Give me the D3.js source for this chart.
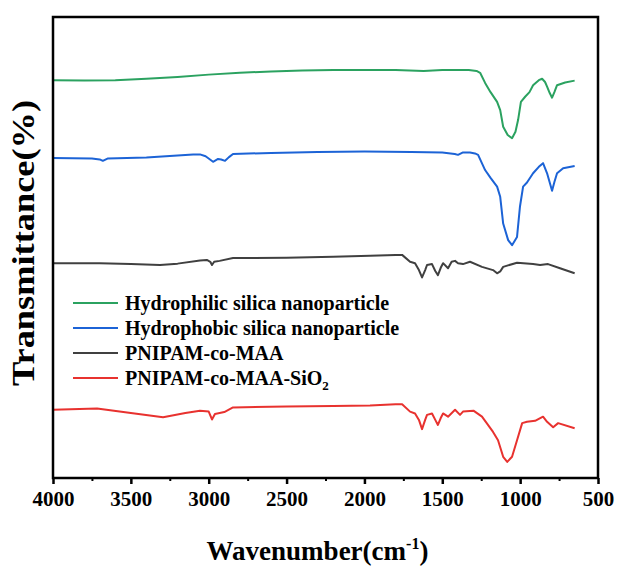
<!DOCTYPE html>
<html>
<head>
<meta charset="utf-8">
<script src="https://cdn.jsdelivr.net/npm/d3@7"></script>
<style>
  body { margin: 0; background: #fff; }
  text { font-family: "Liberation Serif", "Times New Roman", serif; font-weight: bold; }
</style>
</head>
<body>
<svg width="622" height="566"></svg>
<script>
const width = 622
const height = 566
const margin = {top: 17, right: 24, bottom: 88, left: 53}

// FTIR spectra, wavenumber (cm-1) and offset transmittance (a.u.)
const greenWn = [4000,3800,3600,3400,3200,3000,2800,2600,2400,2200,2000,1800,1620,1500,1330,1280,1257,1225,1190,1148,1128,1109,1080,1052,1030,1013,995,968,940,917,880,859,840,827,810,795,780,763,711,650]
const greenT  = [86.3,86.2,86.3,86.6,87.0,87.5,87.9,88.2,88.4,88.5,88.5,88.5,88.3,88.5,88.5,88.3,87.9,85.7,83.7,81.6,79.8,76.2,74.4,73.7,75.1,77.7,81.6,82.7,83.7,85.2,86.3,86.6,85.9,84.9,83.5,82.5,83.7,85.2,85.8,86.2]

const blueWn = [4000,3750,3700,3680,3650,3400,3100,3056,3020,2972,2940,2920,2895,2870,2844,2600,2300,2000,1700,1500,1420,1399,1370,1322,1290,1270,1225,1190,1148,1128,1109,1077,1052,1020,1001,981,956,917,880,853,827,795,780,763,724,650]
const blueT  = [69.4,69.3,69.1,68.8,69.3,69.5,70.2,70.2,69.8,68.6,69.2,69.1,68.8,69.6,70.3,70.5,70.7,70.8,70.7,70.6,70.3,70.1,70.6,70.6,70.4,70.1,66.8,65.1,63.2,61.0,55.2,51.6,50.5,52.3,58.9,63.2,64.1,66.1,67.5,68.3,66.1,62.3,64.2,66.1,67.2,67.7]

const blackWn = [4000,3700,3500,3313,3200,3056,3012,2990,2979,2965,2930,2844,2500,2200,1964,1800,1758,1707,1675,1650,1630,1610,1598,1566,1545,1528,1510,1495,1463,1440,1418,1399,1367,1322,1245,1174,1148,1128,1109,1020,917,872,821,744,650]
const blackT  = [46.6,46.6,46.4,46.2,46.5,47.2,47.3,46.9,46.2,46.9,47.1,47.7,47.8,48.0,48.2,48.4,48.4,46.9,46.6,45.1,43.5,45.1,46.2,46.4,44.9,44.0,45.6,46.6,45.5,46.9,47.1,46.6,46.4,46.9,45.8,45.1,44.4,44.8,45.8,46.7,46.4,46.2,46.4,45.5,44.4]

const redWn = [4000,3717,3500,3293,3150,3056,3000,2979,2960,2900,2844,2500,2200,1964,1800,1758,1707,1675,1650,1630,1610,1598,1566,1545,1528,1510,1495,1463,1418,1386,1367,1300,1245,1174,1142,1109,1083,1052,1020,987,956,904,853,827,788,756,650]
const redT  = [14.8,15.1,14.1,13.2,14.1,14.6,14.4,12.7,13.9,14.3,15.3,15.5,15.6,15.7,16.0,16.0,14.4,14.0,12.6,10.6,12.6,13.7,14.0,12.6,11.5,13.0,14.0,13.3,14.8,13.7,14.4,14.6,13.3,10.0,8.2,4.6,3.5,4.6,8.2,11.9,12.2,12.4,13.3,12.2,11.0,11.9,10.8]

const seriesNames  = ["Hydrophilic silica nanoparticle", "Hydrophobic silica nanoparticle", "PNIPAM-co-MAA", "PNIPAM-co-MAA-SiO2"]
const seriesColors = ["#2ba260", "#1c63d6", "#404040", "#e8322f"]
const majorTicks = [4000,3500,3000,2500,2000,1500,1000,500]
const minorTicks = [3750,3250,2750,2250,1750,1250,750]

const series = [
  {wn: greenWn, t: greenT},
  {wn: blueWn, t: blueT},
  {wn: blackWn, t: blackT},
  {wn: redWn, t: redT}
].map((s, i) => ({
  name: seriesNames[i],
  color: seriesColors[i],
  points: s.wn.map((w, j) => ({w, t: s.t[j]}))
}))

const svg = d3.select("svg")
const x = d3.scaleLinear().domain([4000, 500]).range([margin.left, width - margin.right])
const y = d3.scaleLinear().domain([0, 100]).range([height - margin.bottom, margin.top])

const line = d3.line().x(d => x(d.w)).y(d => y(d.t))

svg.selectAll("path.spec")
  .data(series)
  .enter()
  .append("path")
  .attr("class", "spec")
  .attr("d", d => line(d.points))
  .attr("fill", "none")
  .attr("stroke", d => d.color)
  .attr("stroke-width", 2)
  .attr("stroke-linejoin", "round")

// frame
svg.append("rect")
  .attr("x", margin.left)
  .attr("y", margin.top)
  .attr("width", width - margin.left - margin.right)
  .attr("height", height - margin.top - margin.bottom)
  .attr("fill", "none")
  .attr("stroke", "#000")
  .attr("stroke-width", 2.5)

const xAxis = d3.axisBottom(x).tickValues(majorTicks).tickFormat(d3.format("d"))
  .tickSize(6).tickSizeOuter(0).tickPadding(7)
const gx = svg.append("g")
  .attr("transform", `translate(0,${height - margin.bottom})`)
  .call(xAxis)
gx.select(".domain").remove()
gx.selectAll(".tick line").attr("stroke-width", 2.5)
gx.selectAll(".tick text")
  .attr("font-size", 21)
  .attr("font-family", "Liberation Serif, Times New Roman, serif")
  .attr("font-weight", "bold")
  .attr("fill", "#000")

const gm = svg.append("g")
  .attr("transform", `translate(0,${height - margin.bottom})`)
  .call(d3.axisBottom(x).tickValues(minorTicks).tickSize(3).tickFormat(""))
gm.select(".domain").remove()
gm.selectAll(".tick line").attr("stroke-width", 2)

// axis titles
const xt = svg.append("text")
  .attr("x", (margin.left + width - margin.right) / 2 - 8)
  .attr("y", 560)
  .attr("text-anchor", "middle")
  .attr("font-size", 27)
xt.append("tspan").text("Wavenumber(cm")
xt.append("tspan").attr("font-size", 16).attr("dy", -11).text("-1")
xt.append("tspan").attr("dy", 11).text(")")

svg.append("text")
  .attr("transform", "translate(34,386) rotate(-90)")
  .attr("text-anchor", "start")
  .attr("font-size", 31)
  .attr("textLength", 286)
  .attr("lengthAdjust", "spacingAndGlyphs")
  .text("Transmittance(%)")

// legend
const legend = svg.append("g")
  .selectAll("g")
  .data(series)
  .enter()
  .append("g")
  .attr("transform", (d, i) => `translate(73,${303 + i * 25})`)

legend.append("line")
  .attr("x1", 0).attr("x2", 45)
  .attr("stroke", d => d.color)
  .attr("stroke-width", 2)

const lt = legend.append("text")
  .attr("x", 52)
  .attr("y", 7)
  .attr("font-size", 20)

lt.filter((d, i) => i < 3).text(d => d.name)
const sio = lt.filter((d, i) => i === 3)
sio.append("tspan").text("PNIPAM-co-MAA-SiO")
sio.append("tspan").attr("font-size", 13).attr("dy", 5).text("2")
</script>
</body>
</html>
